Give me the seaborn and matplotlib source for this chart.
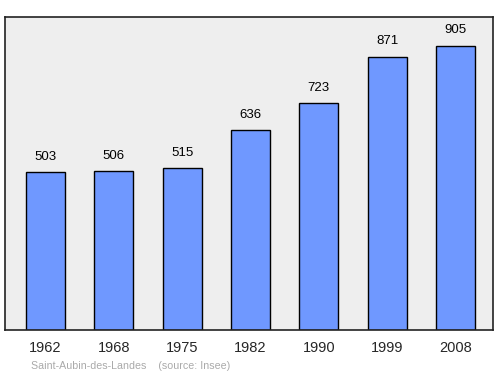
import matplotlib
matplotlib.use("Agg")
import matplotlib.pyplot as plt
import seaborn as sns
import pandas as pd

years = ["1962", "1968", "1975", "1982", "1990", "1999", "2008"]
population = [503, 506, 515, 636, 723, 871, 905]

sns.set_style("white")
plt.rcParams['font.family'] = ['Liberation Sans', 'DejaVu Sans']

df = pd.DataFrame({"year": years, "pop": population})

fig = plt.figure(figsize=(5.0, 3.74), dpi=100)
ax = fig.add_axes([0.01, 0.1176, 0.976, 0.837])
ax.set_facecolor("#eeeeee")

sns.barplot(data=df, x="year", y="pop", ax=ax, color="#6f98ff", saturation=1,
            width=0.57, edgecolor="black", linewidth=1.0)

ax.set_xlim(-0.593, 6.549)
ax.set_ylim(0, 997)

for i, v in enumerate(population):
    ax.text(i, v + 30, str(v), ha="center", va="bottom", fontsize=9.5, color="black")

ax.set_xlabel("")
ax.set_ylabel("")
ax.set_yticks([])
ax.tick_params(axis="x", length=0, labelsize=10.5, pad=8)
for s in ax.spines.values():
    s.set_visible(True)
    s.set_color("#222222")
    s.set_linewidth(1.2)

fig.text(0.062, 0.014, "Saint-Aubin-des-Landes    (source: Insee)", fontsize=7.7, color="#aaaaaa")

fig.savefig("out.png", dpi=100, facecolor="white")
